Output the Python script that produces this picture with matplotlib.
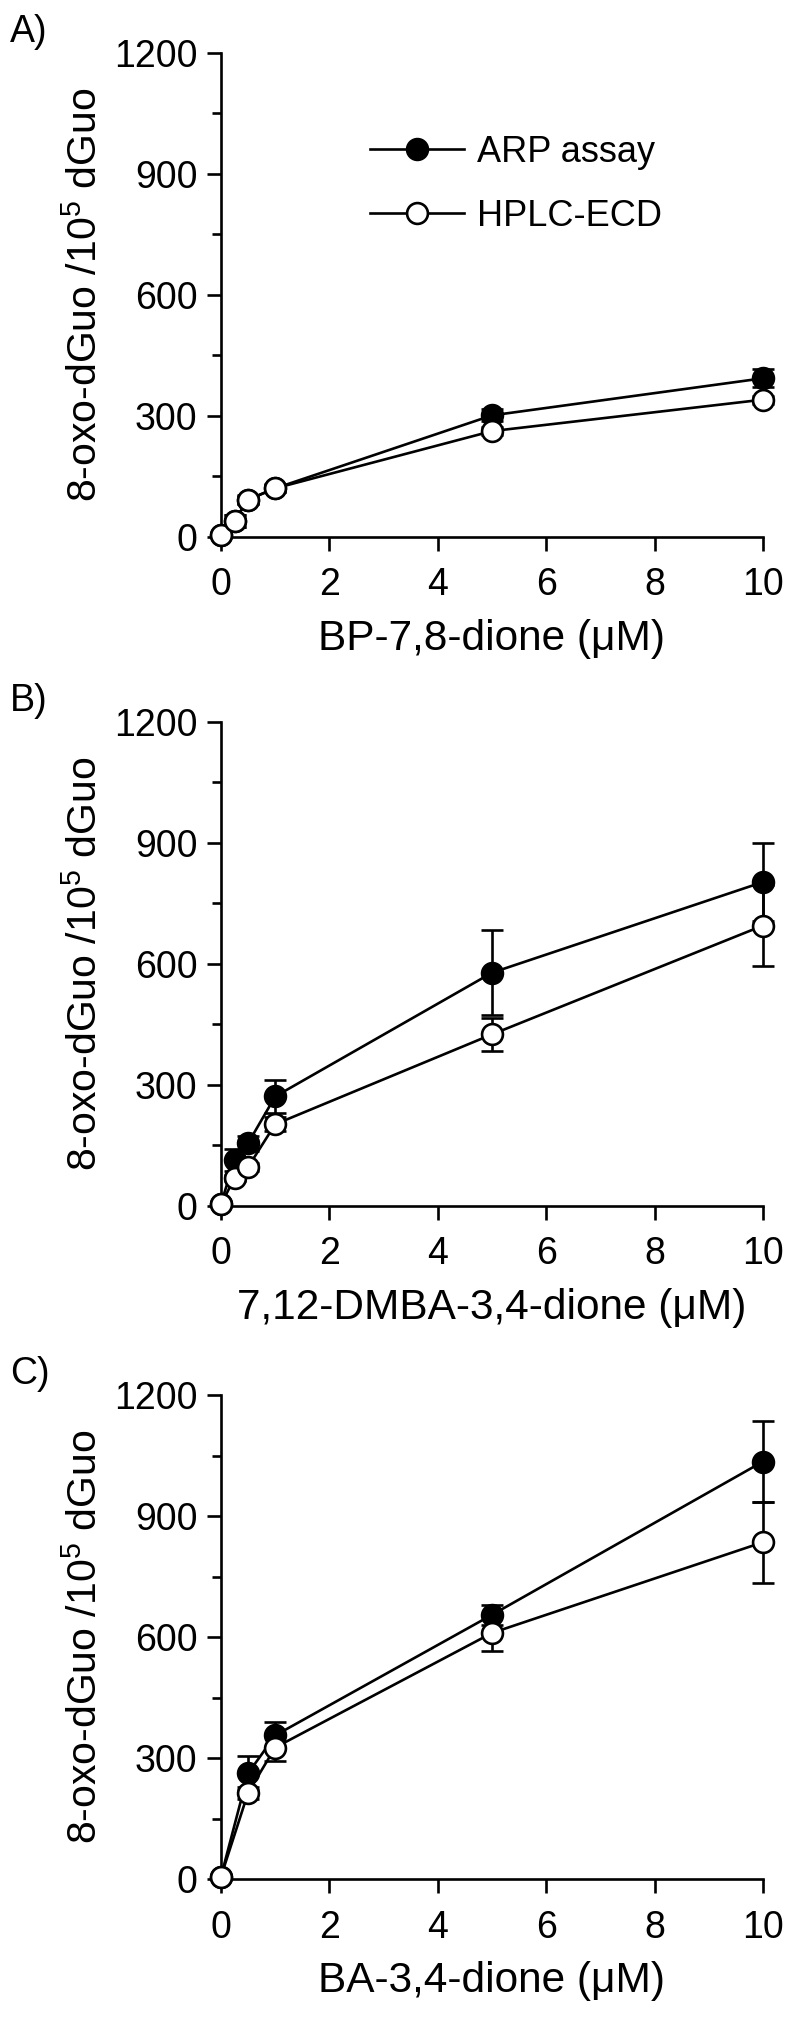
import matplotlib
matplotlib.use("Agg")
import matplotlib.pyplot as plt
from matplotlib.ticker import MultipleLocator

# ---------- data ----------
conc_a = [0, 0.25, 0.5, 1, 5, 10]
arp_a = [5, 40, 92, 120, 301, 393]
arp_a_err = [3, 15, 10, 10, 15, 22]
hplc_a = [5, 40, 92, 120, 262, 340]
hplc_a_err = [3, 15, 12, 8, 10, 10]

conc_b = [0, 0.25, 0.5, 1, 5, 10]
arp_b = [5, 113, 155, 271, 578, 803]
arp_b_err = [3, 28, 19, 42, 105, 97]
hplc_b = [3, 69, 96, 202, 425, 695]
hplc_b_err = [3, 8, 10, 17, 40, 100]

conc_c = [0, 0.5, 1, 5, 10]
arp_c = [6, 262, 356, 655, 1035]
arp_c_err = [3, 42, 34, 25, 100]
hplc_c = [6, 214, 326, 610, 835]
hplc_c_err = [3, 15, 34, 45, 100]

panel_tags = ["A)", "B)", "C)"]
x_titles = ["BP-7,8-dione (\u03bcM)", "7,12-DMBA-3,4-dione (\u03bcM)", "BA-3,4-dione (\u03bcM)"]
y_title = r"8-oxo-dGuo /10$^{\mathregular{5}}$ dGuo"
series_names = ["ARP assay", "HPLC-ECD"]

# ---------- style ----------
plt.rcParams["font.family"] = ["Liberation Sans", "DejaVu Sans"]
plt.rcParams["mathtext.fontset"] = "custom"
plt.rcParams["mathtext.rm"] = "Liberation Sans"
plt.rcParams["mathtext.it"] = "Liberation Sans:italic"

W, H = 800, 2021
left_px, right_px = 221, 763
tops = [53, 722, 1395]
bottoms = [536.7, 1205.7, 1879]
fs = 27          # tick labels / panel tags
fs_x = 30.5      # x titles
fs_y = 29.5      # y titles
lw = 1.9
ms = 15

panels = [
    (conc_a, arp_a, arp_a_err, hplc_a, hplc_a_err),
    (conc_b, arp_b, arp_b_err, hplc_b, hplc_b_err),
    (conc_c, arp_c, arp_c_err, hplc_c, hplc_c_err),
]

fig = plt.figure(figsize=(W / 100, H / 100), dpi=100)

for i, (x, arp, arp_err, hplc, hplc_err) in enumerate(panels):
    top, bot = tops[i], bottoms[i]
    ax = fig.add_axes([left_px / W, 1 - bot / H, (right_px - left_px) / W, (bot - top) / H])

    # filled = ARP assay, open = HPLC-ECD (open drawn on top)
    ax.errorbar(x, arp, yerr=arp_err, fmt="none", ecolor="black", elinewidth=lw,
                capsize=8, capthick=lw, zorder=2, clip_on=False)
    ax.plot(x, arp, "-o", color="black", lw=lw, ms=ms, mfc="black", mec="black",
            mew=lw, zorder=3, clip_on=False, label=series_names[0])
    ax.errorbar(x, hplc, yerr=hplc_err, fmt="none", ecolor="black", elinewidth=lw,
                capsize=8, capthick=lw, zorder=4, clip_on=False)
    ax.plot(x, hplc, "-o", color="black", lw=lw, ms=ms, mfc="white", mec="black",
            mew=lw, zorder=5, clip_on=False, label=series_names[1])

    ax.set_xlim(0, 10)
    ax.set_ylim(0, 1200)
    ax.set_xticks(range(0, 11, 2))
    ax.yaxis.set_major_locator(MultipleLocator(300))
    ax.yaxis.set_minor_locator(MultipleLocator(150))

    for side in ["top", "right"]:
        ax.spines[side].set_visible(False)
    for side in ["left", "bottom"]:
        ax.spines[side].set_linewidth(lw)

    ax.tick_params(axis="both", which="both", direction="out", width=lw, labelsize=fs)
    ax.tick_params(axis="y", which="major", length=10, pad=7)
    ax.tick_params(axis="y", which="minor", length=6.5)
    ax.tick_params(axis="x", which="major", length=10, pad=12)

    ax.set_xlabel(x_titles[i], fontsize=fs_x, labelpad=11)
    ax.set_ylabel(y_title, fontsize=fs_y, labelpad=7)

    fig.text(10 / W, 1 - (top - 21) / H, panel_tags[i], fontsize=fs, ha="left", va="center")

    if i == 0:
        ax.legend(loc="center left", bbox_to_anchor=(0.275, 0.729), frameon=False,
                  fontsize=26, handlelength=2.6, handletextpad=0.36, labelspacing=0.8,
                  borderpad=0, borderaxespad=0)

fig.savefig("out.png", dpi=100)
